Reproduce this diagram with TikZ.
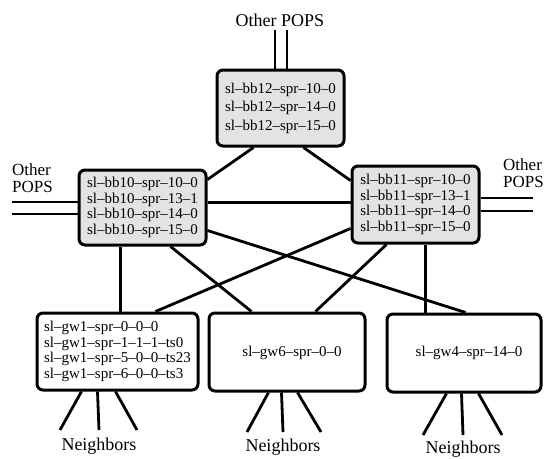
\documentclass[tikz,border=0pt]{standalone}
\usepackage{fontspec}
\setmainfont{Liberation Serif}
\usetikzlibrary{calc}
\begin{document}
\begin{tikzpicture}[x=1pt,y=-1pt,
  bbbox/.style={draw, line width=3pt, rounded corners=6pt, fill=gray!22, inner sep=0pt, align=left, font=\fontsize{15}{15.6}\selectfont},
  gwbox/.style={draw, line width=3pt, rounded corners=6pt, fill=white, inner sep=0pt, align=left, font=\fontsize{15}{15.6}\selectfont},
  link/.style={line width=2.8pt},
  lbl/.style={font=\fontsize{18}{16}\selectfont, inner sep=0pt},
  sidelbl/.style={font=\fontsize{17}{17.5}\selectfont, inner sep=0pt, anchor=west, align=left}]
\useasboundingbox (0,0) rectangle (545,458);
% labels
\node[lbl] (ptop) at (280,20) {Other POPS};
\node[sidelbl] (pleft) at (12,178) {Other\\POPS};
\node[sidelbl] (pright) at (503,173) {Other\\POPS};
% boxes
\node[bbbox, minimum width=127pt, minimum height=76pt, font=\fontsize{15}{18.5}\selectfont] (bb12) at (280.5,108)
  {sl--bb12--spr--10--0\\sl--bb12--spr--14--0\\sl--bb12--spr--15--0};
\node[bbbox, minimum width=127pt, minimum height=75pt] (bb10) at (142.5,207.5)
  {sl--bb10--spr--10--0\\sl--bb10--spr--13--1\\sl--bb10--spr--14--0\\sl--bb10--spr--15--0};
\node[bbbox, minimum width=127pt, minimum height=77pt] (bb11) at (415.5,204.5)
  {sl--bb11--spr--10--0\\sl--bb11--spr--13--1\\sl--bb11--spr--14--0\\sl--bb11--spr--15--0};
\node[gwbox, minimum width=161pt, minimum height=77pt] (gw1) at (117.5,351.5)
  {sl--gw1--spr--0--0--0\\sl--gw1--spr--1--1--1--ts0\\sl--gw1--spr--5--0--0--ts23\\sl--gw1--spr--6--0--0--ts3};
\node[gwbox, minimum width=156pt, minimum height=78pt] (gw6) at (287,352) {};
\node[inner sep=0pt, font=\fontsize{15}{15.6}\selectfont] (gw6t) at (292,353) {sl--gw6--spr--0--0};
\node[gwbox, minimum width=154pt, minimum height=78pt] (gw4) at (464,353) {};
\node[inner sep=0pt, font=\fontsize{15}{15.6}\selectfont] (gw4t) at (469,353) {sl--gw4--spr--14--0};
% other POPS lines
\coordinate (t1) at (275,30);
\coordinate (t2) at (287,30);
\draw[link] (t1 |- bb12.north) -- (t1);
\draw[link] (t2 |- bb12.north) -- (t2);
\coordinate (l1) at (12,202);
\coordinate (l2) at (12,214);
\draw[link] (l1) -- (l1 -| bb10.west);
\draw[link] (l2) -- (l2 -| bb10.west);
\coordinate (r1) at (533,198);
\coordinate (r2) at (533,211);
\draw[link] (r1 -| bb11.east) -- (r1);
\draw[link] (r2 -| bb11.east) -- (r2);
% backbone links
\draw[link] ($(bb12.south west)+(38,0)$) -- ($(bb10.north east)+(0,11)$);
\draw[link] ($(bb12.south west)+(88,0)$) -- ($(bb11.north west)+(0,16)$);
\draw[link] ($(bb10.north east)+(0,34)$) -- ($(bb11.north west)+(0,38)$);
\draw[link] ($(bb10.south west)+(43,0)$) -- ($(gw1.north west)+(85,0)$);
\draw[link] ($(bb10.south west)+(93,0)$) -- ($(gw6.north west)+(44,0)$);
\draw[link] ($(bb10.north east)+(0,62)$) -- ($(gw4.north west)+(80,0)$);
\draw[link] ($(bb11.north west)+(0,64)$) -- ($(gw1.north west)+(120,0)$);
\draw[link] ($(bb11.south west)+(36,0)$) -- ($(gw6.north west)+(108,0)$);
\draw[link] ($(bb11.south west)+(75,0)$) -- ($(gw4.north west)+(40,0)$);
% neighbors
\coordinate (n1a) at (60,430); \coordinate (n1b) at (99,430); \coordinate (n1c) at (137,430);
\draw[link] ($(gw1.south west)+(46,0)$) -- (n1a);
\draw[link] ($(gw1.south west)+(62,0)$) -- (n1b);
\draw[link] ($(gw1.south west)+(80,0)$) -- (n1c);
\node[lbl] (nb1) at (99,446) {Neighbors};
\coordinate (n2a) at (247,432); \coordinate (n2b) at (283,432); \coordinate (n2c) at (321,432);
\draw[link] ($(gw6.south west)+(61,0)$) -- (n2a);
\draw[link] ($(gw6.south west)+(74,0)$) -- (n2b);
\draw[link] ($(gw6.south west)+(90,0)$) -- (n2c);
\node[lbl] (nb2) at (283,447) {Neighbors};
\coordinate (n3a) at (423,435); \coordinate (n3b) at (463,435); \coordinate (n3c) at (502,435);
\draw[link] ($(gw4.south west)+(61,0)$) -- (n3a);
\draw[link] ($(gw4.south west)+(76,0)$) -- (n3b);
\draw[link] ($(gw4.south west)+(93,0)$) -- (n3c);
\node[lbl] (nb3) at (463,449) {Neighbors};
\end{tikzpicture}
\end{document}
